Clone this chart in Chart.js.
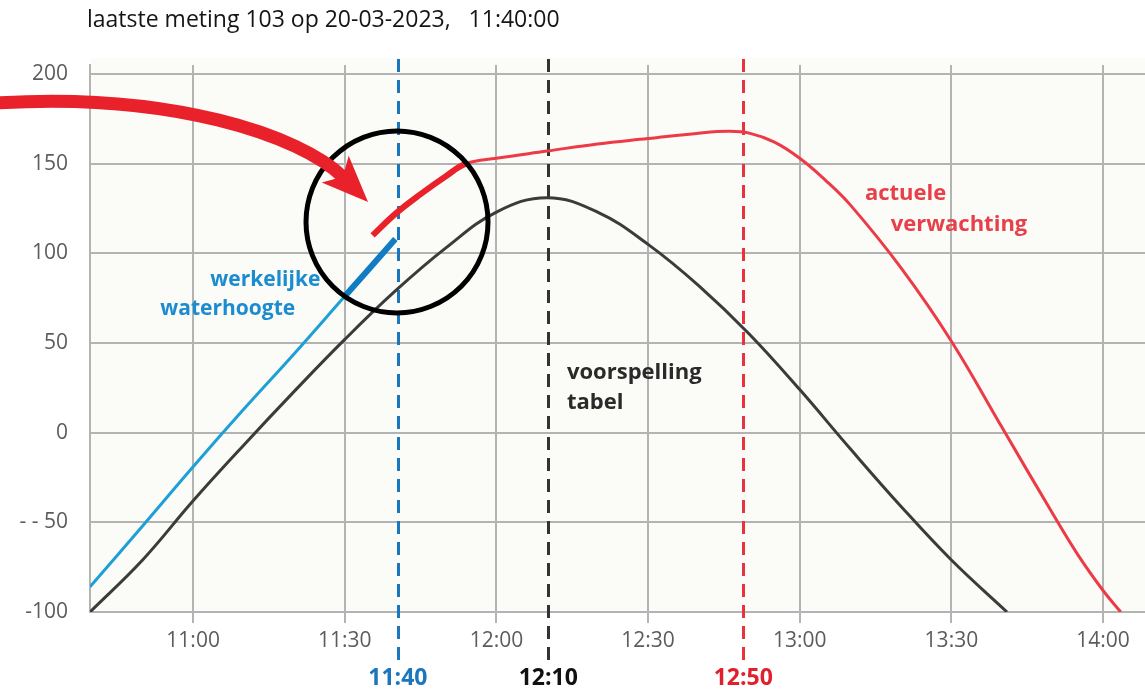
<!DOCTYPE html>
<html><head><meta charset="utf-8">
<script src="https://cdn.jsdelivr.net/npm/chart.js@4.4.0/dist/chart.umd.min.js"></script>
<style>html,body{margin:0;padding:0;background:#fff}#wrap{width:1145px;height:690px;position:relative}canvas{display:block}</style>
</head><body><div id="wrap"><canvas id="c" width="1145" height="690"></canvas></div>
<script>
// ---------- data ----------
const titleText = 'laatste meting 103 op 20-03-2023,   11:40:00';
const xTickTimes = ['11:00','11:30','12:00','12:30','13:00','13:30','14:00'];
const yTickValues = [-100, -50, 0, 50, 100, 150, 200];
const yTickLabels = ['-100', '- - 50', '0', '50', '100', '150', '200'];

const measuredTimes  = ['10:39:36','10:50','11:00','11:10','11:20','11:30','11:40'];
const measuredValues = [-86, -52, -19, 13, 44, 76, 108];

const tableTimes  = ['10:39:36','10:50','11:00','11:10','11:20','11:30','11:40','11:50','12:00','12:10','12:20','12:30','12:40','12:50','13:00','13:10','13:20','13:30','13:41'];
const tableValues = [-100, -71, -38, -7, 23, 52, 79, 103, 123, 131, 123, 105, 82, 55, 24, -9, -41, -71, -100];

const forecastTimes  = ['11:35:30','11:40','11:45','11:50','11:54','12:00','12:10','12:20','12:30','12:40','12:46','12:50','12:55','13:00','13:05','13:10','13:20','13:30','13:40','13:50','13:55','14:00','14:03:30'];
const forecastValues = [110, 122, 133, 143, 150, 153, 157, 161, 164, 167, 168, 167, 162, 153, 141, 127, 92, 51, 3, -45, -68, -88, -100];

const markerTimes  = ['11:40:30', '12:10:15', '12:48:50'];
const markerLabels = ['11:40', '12:10', '12:50'];
const seriesNames  = [['werkelijke', 'waterhoogte'], ['voorspelling', 'tabel'], ['actuele', 'verwachting']];

// ---------- helpers / styles ----------
const toMin = t => { const p = t.split(':').map(Number); return p[0]*60 + p[1] + (p[2]||0)/60; };
const xMin = toMin('10:39:36'), xMax = toMin('14:08:18');
const blueThickFrom = toMin('11:30');
const redThickUntil = toMin('11:54');
const fmt = v => { const h = Math.floor(v/60), m = Math.round(v - h*60); return h + ':' + String(m).padStart(2,'0'); };
const pts = (ts, vs) => ts.map((t,i) => ({x: toMin(t), y: vs[i]}));

const FONT = "'Open Sans', 'Noto Sans', sans-serif";
const markerColors = ['#1a76bd', '#333333', '#e8323c'];
const markerTextColors = ['#1a76bd', '#111111', '#e0202c'];

// annotation placements (data coordinates)
const nameLayout = [
  {color:'#1b8ccf', size:21, lines:[{t:'11:03:24', v:82}, {t:'10:53:30', v:65.5}]},
  {color:'#2a2a2a', size:22, lines:[{t:'12:13:57', v:30}, {t:'12:13:57', v:13.3}]},
  {color:'#e8404a', size:22, lines:[{t:'13:12:54', v:130}, {t:'13:18:00', v:112.5}]}
];
const ringCenter = {t:'11:40:20', v:117.5};
const arrowPath = {p0:{t:'10:20:52', v:183.8}, c1:{t:'10:55:28', v:190}, c2:{t:'11:21:10', v:166}, base:{t:'11:28:40', v:145.4}, tip:{t:'11:34:36', v:128.6}};

const decor = {
  id: 'decor',
  beforeDraw(chart) {
    const {ctx, chartArea: a} = chart;
    ctx.save();
    ctx.fillStyle = '#fbfbf7';
    ctx.fillRect(a.left, a.top - 7, a.right - a.left, a.bottom - a.top + 7);
    ctx.restore();
  },
  beforeDatasetsDraw(chart) {
    const {ctx, chartArea: a, scales: {x}} = chart;
    ctx.save();
    markerTimes.forEach((t, i) => {
      const px = Math.round(x.getPixelForValue(toMin(t))) + 0.5;
      ctx.strokeStyle = markerColors[i];
      ctx.lineWidth = 3;
      ctx.setLineDash([13, 8]);
      ctx.beginPath();
      ctx.moveTo(px, a.top - 6);
      ctx.lineTo(px, 663);
      ctx.stroke();
    });
    ctx.restore();
  },
  afterDatasetsDraw(chart) {
    const {ctx, scales: {x, y}} = chart;
    const P = o => [x.getPixelForValue(toMin(o.t)), y.getPixelForValue(o.v)];
    ctx.save();
    // series names
    ctx.textAlign = 'left';
    ctx.textBaseline = 'alphabetic';
    nameLayout.forEach((n, i) => {
      ctx.font = 'bold ' + n.size + 'px ' + FONT;
      ctx.fillStyle = n.color;
      n.lines.forEach((l, j) => { const [px, py] = P(l); ctx.fillText(seriesNames[i][j], px, py); });
    });
    // marker labels under axis
    ctx.font = 'bold 23px ' + FONT;
    ctx.textAlign = 'center';
    ctx.textBaseline = 'middle';
    markerTimes.forEach((t, i) => {
      ctx.fillStyle = markerTextColors[i];
      ctx.fillText(markerLabels[i], x.getPixelForValue(toMin(t)), 678);
    });
    // ring
    const [cx, cy] = P(ringCenter);
    ctx.strokeStyle = '#000';
    ctx.lineWidth = 5;
    ctx.beginPath();
    ctx.arc(cx, cy, 91, 0, Math.PI*2);
    ctx.stroke();
    // arrow
    const p0 = P(arrowPath.p0), c1 = P(arrowPath.c1), c2 = P(arrowPath.c2), b = P(arrowPath.base), tp = P(arrowPath.tip);
    const dx = tp[0]-b[0], dy = tp[1]-b[1], L = Math.hypot(dx, dy);
    const ux = dx/L, uy = dy/L, nx = -uy, ny = ux;
    ctx.strokeStyle = '#e8212b';
    ctx.fillStyle = '#e8212b';
    ctx.lineWidth = 13;
    ctx.lineCap = 'butt';
    ctx.beginPath();
    ctx.moveTo(p0[0], p0[1]);
    ctx.bezierCurveTo(c1[0], c1[1], c2[0], c2[1], b[0] + ux*8, b[1] + uy*8);
    ctx.stroke();
    ctx.beginPath();
    ctx.moveTo(tp[0], tp[1]);
    ctx.lineTo(b[0] + nx*19 - ux*4, b[1] + ny*19 - uy*4);
    ctx.lineTo(b[0] + ux*7, b[1] + uy*7);
    ctx.lineTo(b[0] - nx*19 - ux*4, b[1] - ny*19 - uy*4);
    ctx.closePath();
    ctx.fill();
    // title
    ctx.font = '23px ' + FONT;
    ctx.fillStyle = '#151515';
    ctx.textAlign = 'left';
    ctx.textBaseline = 'middle';
    ctx.fillText(titleText, 87, 20);
    ctx.restore();
  }
};

new Chart(document.getElementById('c'), {
  type: 'line',
  data: {
    datasets: [
      {
        label: 'voorspelling tabel',
        data: pts(tableTimes, tableValues),
        borderColor: '#3b3b3b', borderWidth: 3, pointRadius: 0,
        tension: 0.4
      },
      {
        label: 'werkelijke waterhoogte',
        data: pts(measuredTimes, measuredValues),
        borderColor: '#1ea0d6', borderWidth: 3, pointRadius: 0,
        tension: 0.4,
        segment: {
          borderWidth: c => c.p0.parsed.x >= blueThickFrom - 0.01 ? 6 : 3,
          borderColor: c => c.p0.parsed.x >= blueThickFrom - 0.01 ? '#0f7cc4' : '#1ea0d6'
        }
      },
      {
        label: 'actuele verwachting',
        data: pts(forecastTimes, forecastValues),
        borderColor: '#ec3b47', borderWidth: 3, pointRadius: 0,
        tension: 0.4,
        segment: {
          borderWidth: c => c.p1.parsed.x <= redThickUntil + 0.01 ? 6 : 3,
          borderColor: c => c.p1.parsed.x <= redThickUntil + 0.01 ? '#e8212b' : '#ec3b47'
        }
      }
    ]
  },
  options: {
    responsive: false,
    animation: false,
    layout: {padding: {top: 65, right: 0, left: 0, bottom: 0}},
    plugins: {legend: {display: false}, title: {display: false}, tooltip: {enabled: false}},
    scales: {
      x: {
        type: 'linear', min: xMin, max: xMax,
        afterBuildTicks: s => { s.ticks = xTickTimes.map(t => ({value: toMin(t)})); },
        afterFit: s => { s.height = 78; },
        grid: {color: '#b3b3b3', lineWidth: 2, tickLength: 11, drawTicks: true},
        border: {color: '#b3b3b3', width: 2},
        ticks: {
          font: {family: FONT, size: 21}, color: '#5c5c5c', padding: 5,
          maxRotation: 0, autoSkip: false,
          callback: v => { const i = xTickTimes.findIndex(t => Math.abs(toMin(t) - v) < 0.01); return i >= 0 ? xTickTimes[i] : fmt(v); }
        }
      },
      y: {
        min: -100, max: 205,
        afterBuildTicks: s => { s.ticks = yTickValues.map(v => ({value: v})); },
        afterFit: s => { s.width = 90; },
        grid: {color: '#b3b3b3', lineWidth: 2, drawTicks: false},
        border: {color: '#b3b3b3', width: 2},
        ticks: {
          font: {family: FONT, size: 21}, color: '#5c5c5c', padding: 22,
          callback: v => { const i = yTickValues.indexOf(v); return i >= 0 ? yTickLabels[i] : ''; }
        }
      }
    }
  },
  plugins: [decor]
});
</script>
</body></html>
